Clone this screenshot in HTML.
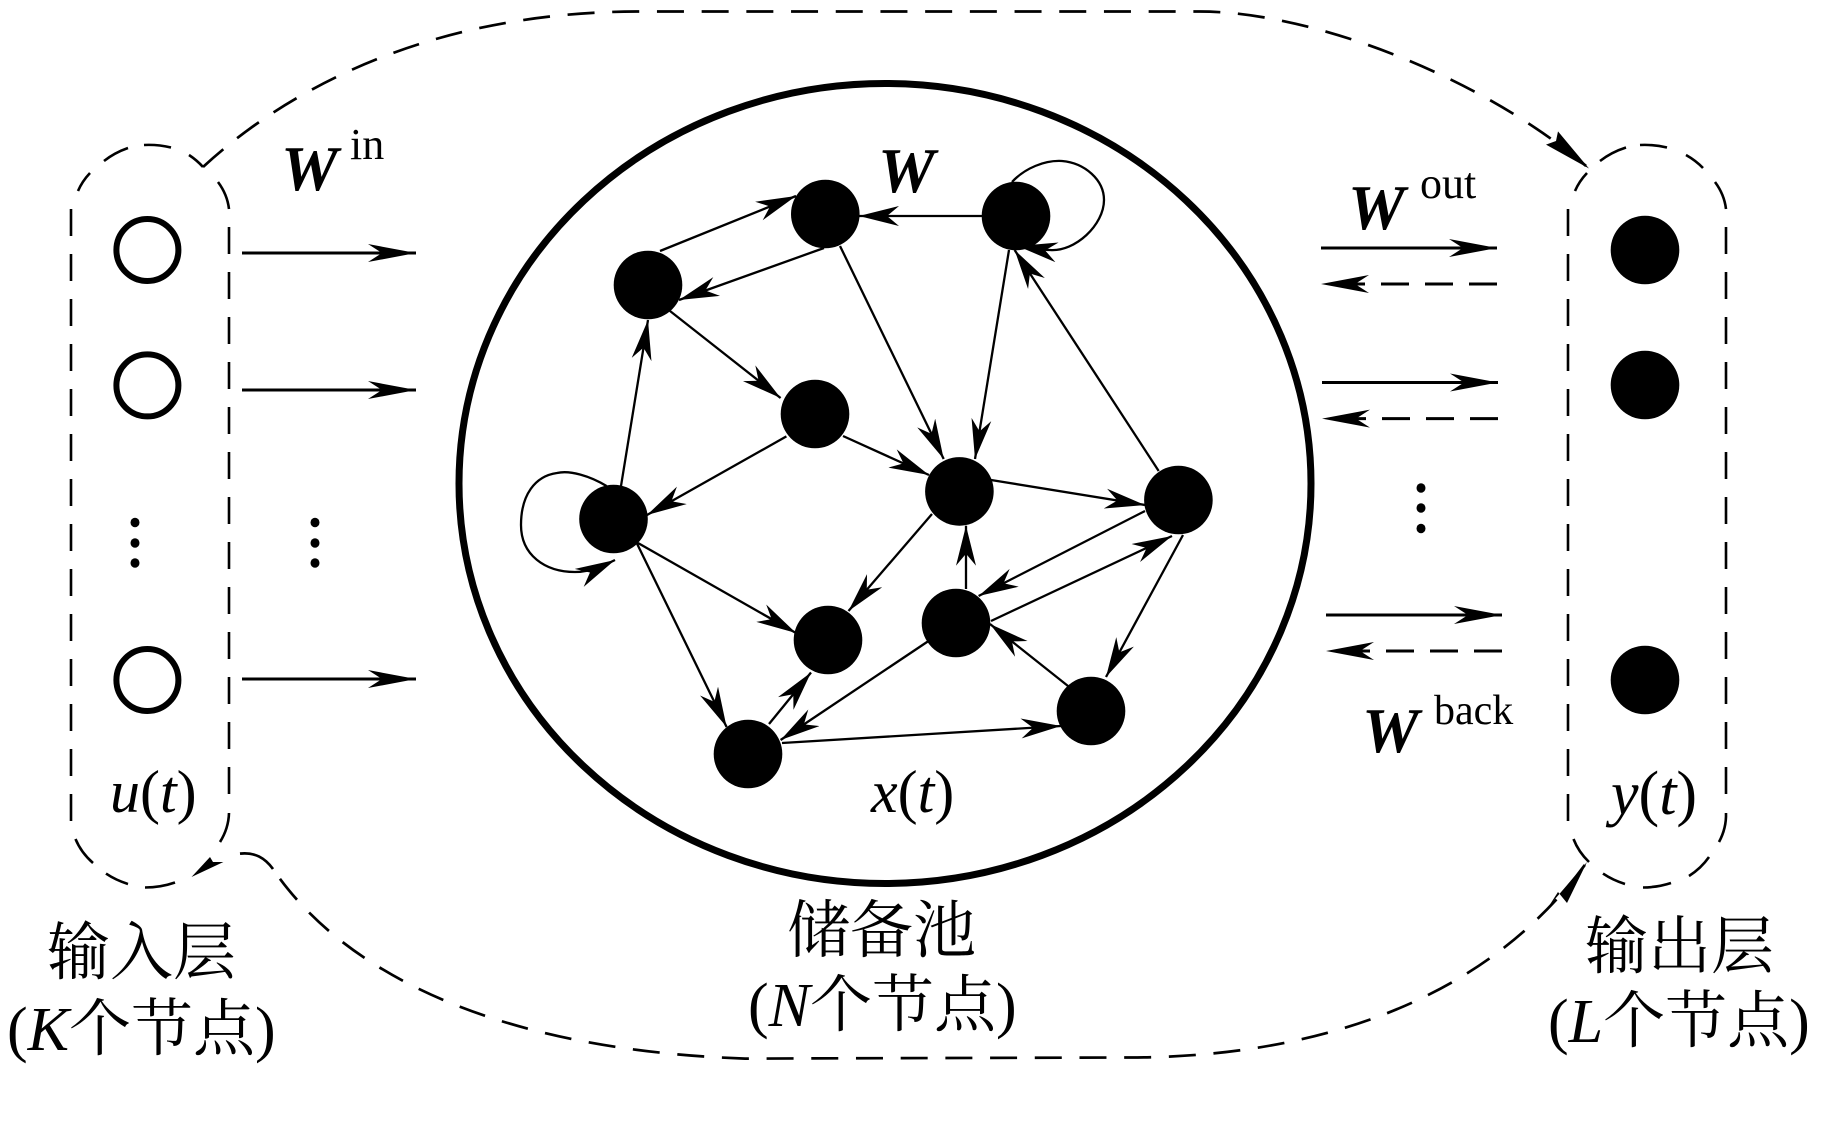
<!DOCTYPE html>
<html><head><meta charset="utf-8"><style>
html,body{margin:0;padding:0;background:#fff}
svg{display:block}
text{font-family:"Liberation Serif","Noto Serif CJK SC",serif;fill:#000}
.w{font-weight:bold;font-style:italic;font-size:64px}
.s{font-size:44px}
.v{font-size:60px}
.c{font-size:63px}
.l{font-size:62px}
.p path{fill:none;stroke:#000;stroke-width:2.6}
.d{fill:none;stroke:#000;stroke-width:2.7;stroke-dasharray:27 17.7}
.e line,.e path{stroke:#000;stroke-width:2.3;fill:none;marker-end:url(#h)}
.a line{stroke:#000;stroke-width:3;marker-end:url(#H)}
.b line{stroke:#000;stroke-width:3;stroke-dasharray:28 16;marker-end:url(#H)}
</style></head><body>
<svg xmlns="http://www.w3.org/2000/svg" width="1821" height="1121" viewBox="0 0 1821 1121">
<defs>
<marker id="H" markerUnits="userSpaceOnUse" markerWidth="50" markerHeight="20" refX="48" refY="9" orient="auto"><path d="M48,9 L0,0 L14,9 L0,18 Z"/></marker>
<marker id="h" markerUnits="userSpaceOnUse" markerWidth="42" markerHeight="22" refX="40" refY="10" orient="auto"><path d="M40,10 L0,0 L12,10 L0,20 Z"/></marker>
</defs>
<rect width="1821" height="1121" fill="#fff"/>
<ellipse cx="885" cy="483.5" rx="426" ry="400" fill="none" stroke="#000" stroke-width="7"/>
<g class="p">
<path stroke-dasharray="27 18" d="M71 209 L71 821"/>
<path stroke-dasharray="27 18" d="M229 227 L229 795"/>
<path d="M78 191 A79 64 0 0 1 90 173"/>
<path d="M104 161 A79 64 0 0 1 128 148"/>
<path d="M144 145 A79 64 0 0 1 171 147.5"/>
<path d="M189 155 A79 64 0 0 1 203 167"/>
<path d="M218 182 A79 64 0 0 1 229 209"/>
<path d="M75.5 839 A79 66 0 0 0 93 863"/>
<path d="M106 873.6 A79 66 0 0 0 128 884"/>
<path d="M145 887.5 A79 66 0 0 0 175 882.5"/>
<path d="M220 842 A79 66 0 0 0 229 813"/>
<path stroke-dasharray="27 18" d="M1568 209 L1568 821"/>
<path stroke-dasharray="27 18" d="M1726 227 L1726 795"/>
<path d="M1575 191 A79 64 0 0 1 1587 173"/>
<path d="M1600 161 A79 64 0 0 1 1626 147.5"/>
<path d="M1640 145 A79 64 0 0 1 1667 147.5"/>
<path d="M1686 155 A79 64 0 0 1 1703 168"/>
<path d="M1715 182 A79 64 0 0 1 1726 209"/>
<path d="M1573.5 839 A79 66 0 0 0 1589 862"/>
<path d="M1603 873.6 A79 66 0 0 0 1625 884"/>
<path d="M1643 887.5 A79 66 0 0 0 1671 883"/>
<path d="M1689 876 A79 66 0 0 0 1709 857"/>
<path d="M1719 842 A79 66 0 0 0 1726 813"/>
</g>
<path class="d" d="M203 167 C270 105 410 11.5 640 11.5 L1200 11.5 C1310 11.5 1480 75 1589 168.5"/>
<path d="M240 853.6 C255 852 265 858 273 869" fill="none" stroke="#000" stroke-width="2.7"/>
<path class="d" stroke-dashoffset="-12" d="M273 869 C345 975 500 1050 745 1058.6 L1131 1057.5 C1300 1057 1480 1010 1587 862"/>
<path d="M1589 168.5 L1546 144.6 L1556 141 L1558 131.4 Z"/>
<path d="M1587 862 L1549 906 L1558 892 L1567 903 Z"/>
<path d="M191.5 877 L210 857 L213 862 L223.4 862 Z"/>
<g fill="none" stroke="#000" stroke-width="6">
<circle cx="147.4" cy="250" r="31"/><circle cx="147.4" cy="385.4" r="31"/><circle cx="147.4" cy="680" r="31"/>
</g>
<g fill="#000">
<circle cx="1645" cy="250" r="34.3"/><circle cx="1645" cy="385" r="34.3"/><circle cx="1645" cy="680" r="34.3"/>
<circle cx="825.3" cy="214" r="34.3"/><circle cx="1016" cy="216" r="34.3"/><circle cx="648" cy="285" r="34.3"/><circle cx="815" cy="414" r="34.3"/><circle cx="959.4" cy="491.4" r="34.3"/><circle cx="1178.4" cy="500" r="34.3"/><circle cx="613.5" cy="519" r="34.3"/><circle cx="828" cy="640" r="34.3"/><circle cx="956" cy="623" r="34.3"/><circle cx="1091" cy="711" r="34.3"/><circle cx="748" cy="754" r="34.3"/>
<ellipse cx="135" cy="522.5" rx="4.5" ry="4.7"/><ellipse cx="135" cy="543" rx="4.5" ry="4.7"/><ellipse cx="135" cy="563" rx="4.5" ry="4.7"/>
<ellipse cx="315" cy="522.5" rx="4.5" ry="4.7"/><ellipse cx="315" cy="543" rx="4.5" ry="4.7"/><ellipse cx="315" cy="563" rx="4.5" ry="4.7"/>
<ellipse cx="1421" cy="488" rx="4.5" ry="4.7"/><ellipse cx="1421" cy="508" rx="4.5" ry="4.7"/><ellipse cx="1421" cy="528.5" rx="4.5" ry="4.7"/>
</g>
<g class="a">
<line x1="242" y1="253" x2="416" y2="253"/><line x1="242" y1="390" x2="416" y2="390"/><line x1="242" y1="679" x2="416" y2="679"/>
<line x1="1321" y1="248" x2="1497" y2="248"/><line x1="1322" y1="382.5" x2="1498" y2="382.5"/><line x1="1326" y1="615" x2="1502" y2="615"/>
</g>
<g class="b">
<line x1="1497" y1="284" x2="1321" y2="284"/><line x1="1498" y1="418.6" x2="1322" y2="418.6"/><line x1="1502" y1="651" x2="1326" y2="651"/>
</g>
<g class="e">
<line x1="660" y1="251" x2="796" y2="196"/>
<line x1="824" y1="248" x2="679" y2="300"/>
<line x1="982" y1="216" x2="859" y2="216"/>
<line x1="840" y1="246" x2="943.7" y2="459"/>
<line x1="1009" y1="250" x2="975" y2="459"/>
<line x1="1158.7" y1="471" x2="1014.6" y2="250"/>
<line x1="670" y1="311" x2="780.6" y2="398"/>
<line x1="621" y1="486" x2="648" y2="320"/>
<line x1="786.4" y1="436.4" x2="647" y2="515"/>
<line x1="843" y1="436" x2="929" y2="475"/>
<line x1="991" y1="480" x2="1145" y2="505"/>
<line x1="638" y1="543" x2="796" y2="633"/>
<line x1="636.7" y1="543" x2="726.6" y2="727"/>
<line x1="932" y1="514" x2="848.5" y2="611"/>
<line x1="966" y1="589" x2="966" y2="525.7"/>
<line x1="991" y1="621" x2="1172" y2="536"/>
<line x1="1145" y1="511" x2="978.6" y2="596"/>
<line x1="1183" y1="535" x2="1106" y2="677"/>
<line x1="1068" y1="686" x2="990" y2="624"/>
<line x1="930" y1="640" x2="780.6" y2="740"/>
<line x1="769" y1="724" x2="811" y2="672.5"/>
<line x1="782" y1="743" x2="1061" y2="726"/>
<path d="M1012 182 C1025 168 1045 160 1062 161 C1085 163 1104 180 1104 200 C1104 225 1075 252 1050 250 C1040 250 1030 248 1017.5 246"/>
<path d="M606.5 486 C590 476 570 470 557 473 C535 476 521 495 521 525 C521 555 545 572 575 572 C590 572 603 566 615 560"/>
</g>
<text class="w" x="281" y="190">W</text><text class="s" x="350" y="159">in</text>
<text class="w" x="878" y="192">W</text>
<text class="w" x="1348" y="229">W</text><text class="s" x="1420" y="198">out</text>
<text class="w" x="1362" y="752">W</text><text class="s" x="1434" y="724" style="font-size:42px">back</text>
<text class="v" x="110" y="812"><tspan font-style="italic">u</tspan>(<tspan font-style="italic">t</tspan>)</text>
<text class="v" x="871" y="812"><tspan font-style="italic">x</tspan>(<tspan font-style="italic">t</tspan>)</text>
<text class="v" x="1611" y="814" style="font-size:62px"><tspan font-style="italic">y</tspan>(<tspan font-style="italic">t</tspan>)</text>
<text class="c" x="47" y="974">输入层</text>
<text class="l" x="7" y="1050">(<tspan font-style="italic">K</tspan>个节点)</text>
<text class="c" x="787" y="952">储备池</text>
<text class="l" x="748" y="1026">(<tspan font-style="italic">N</tspan>个节点)</text>
<text class="c" x="1585" y="968">输出层</text>
<text class="l" x="1548" y="1042">(<tspan font-style="italic">L</tspan>个节点)</text>
</svg>
</body></html>
